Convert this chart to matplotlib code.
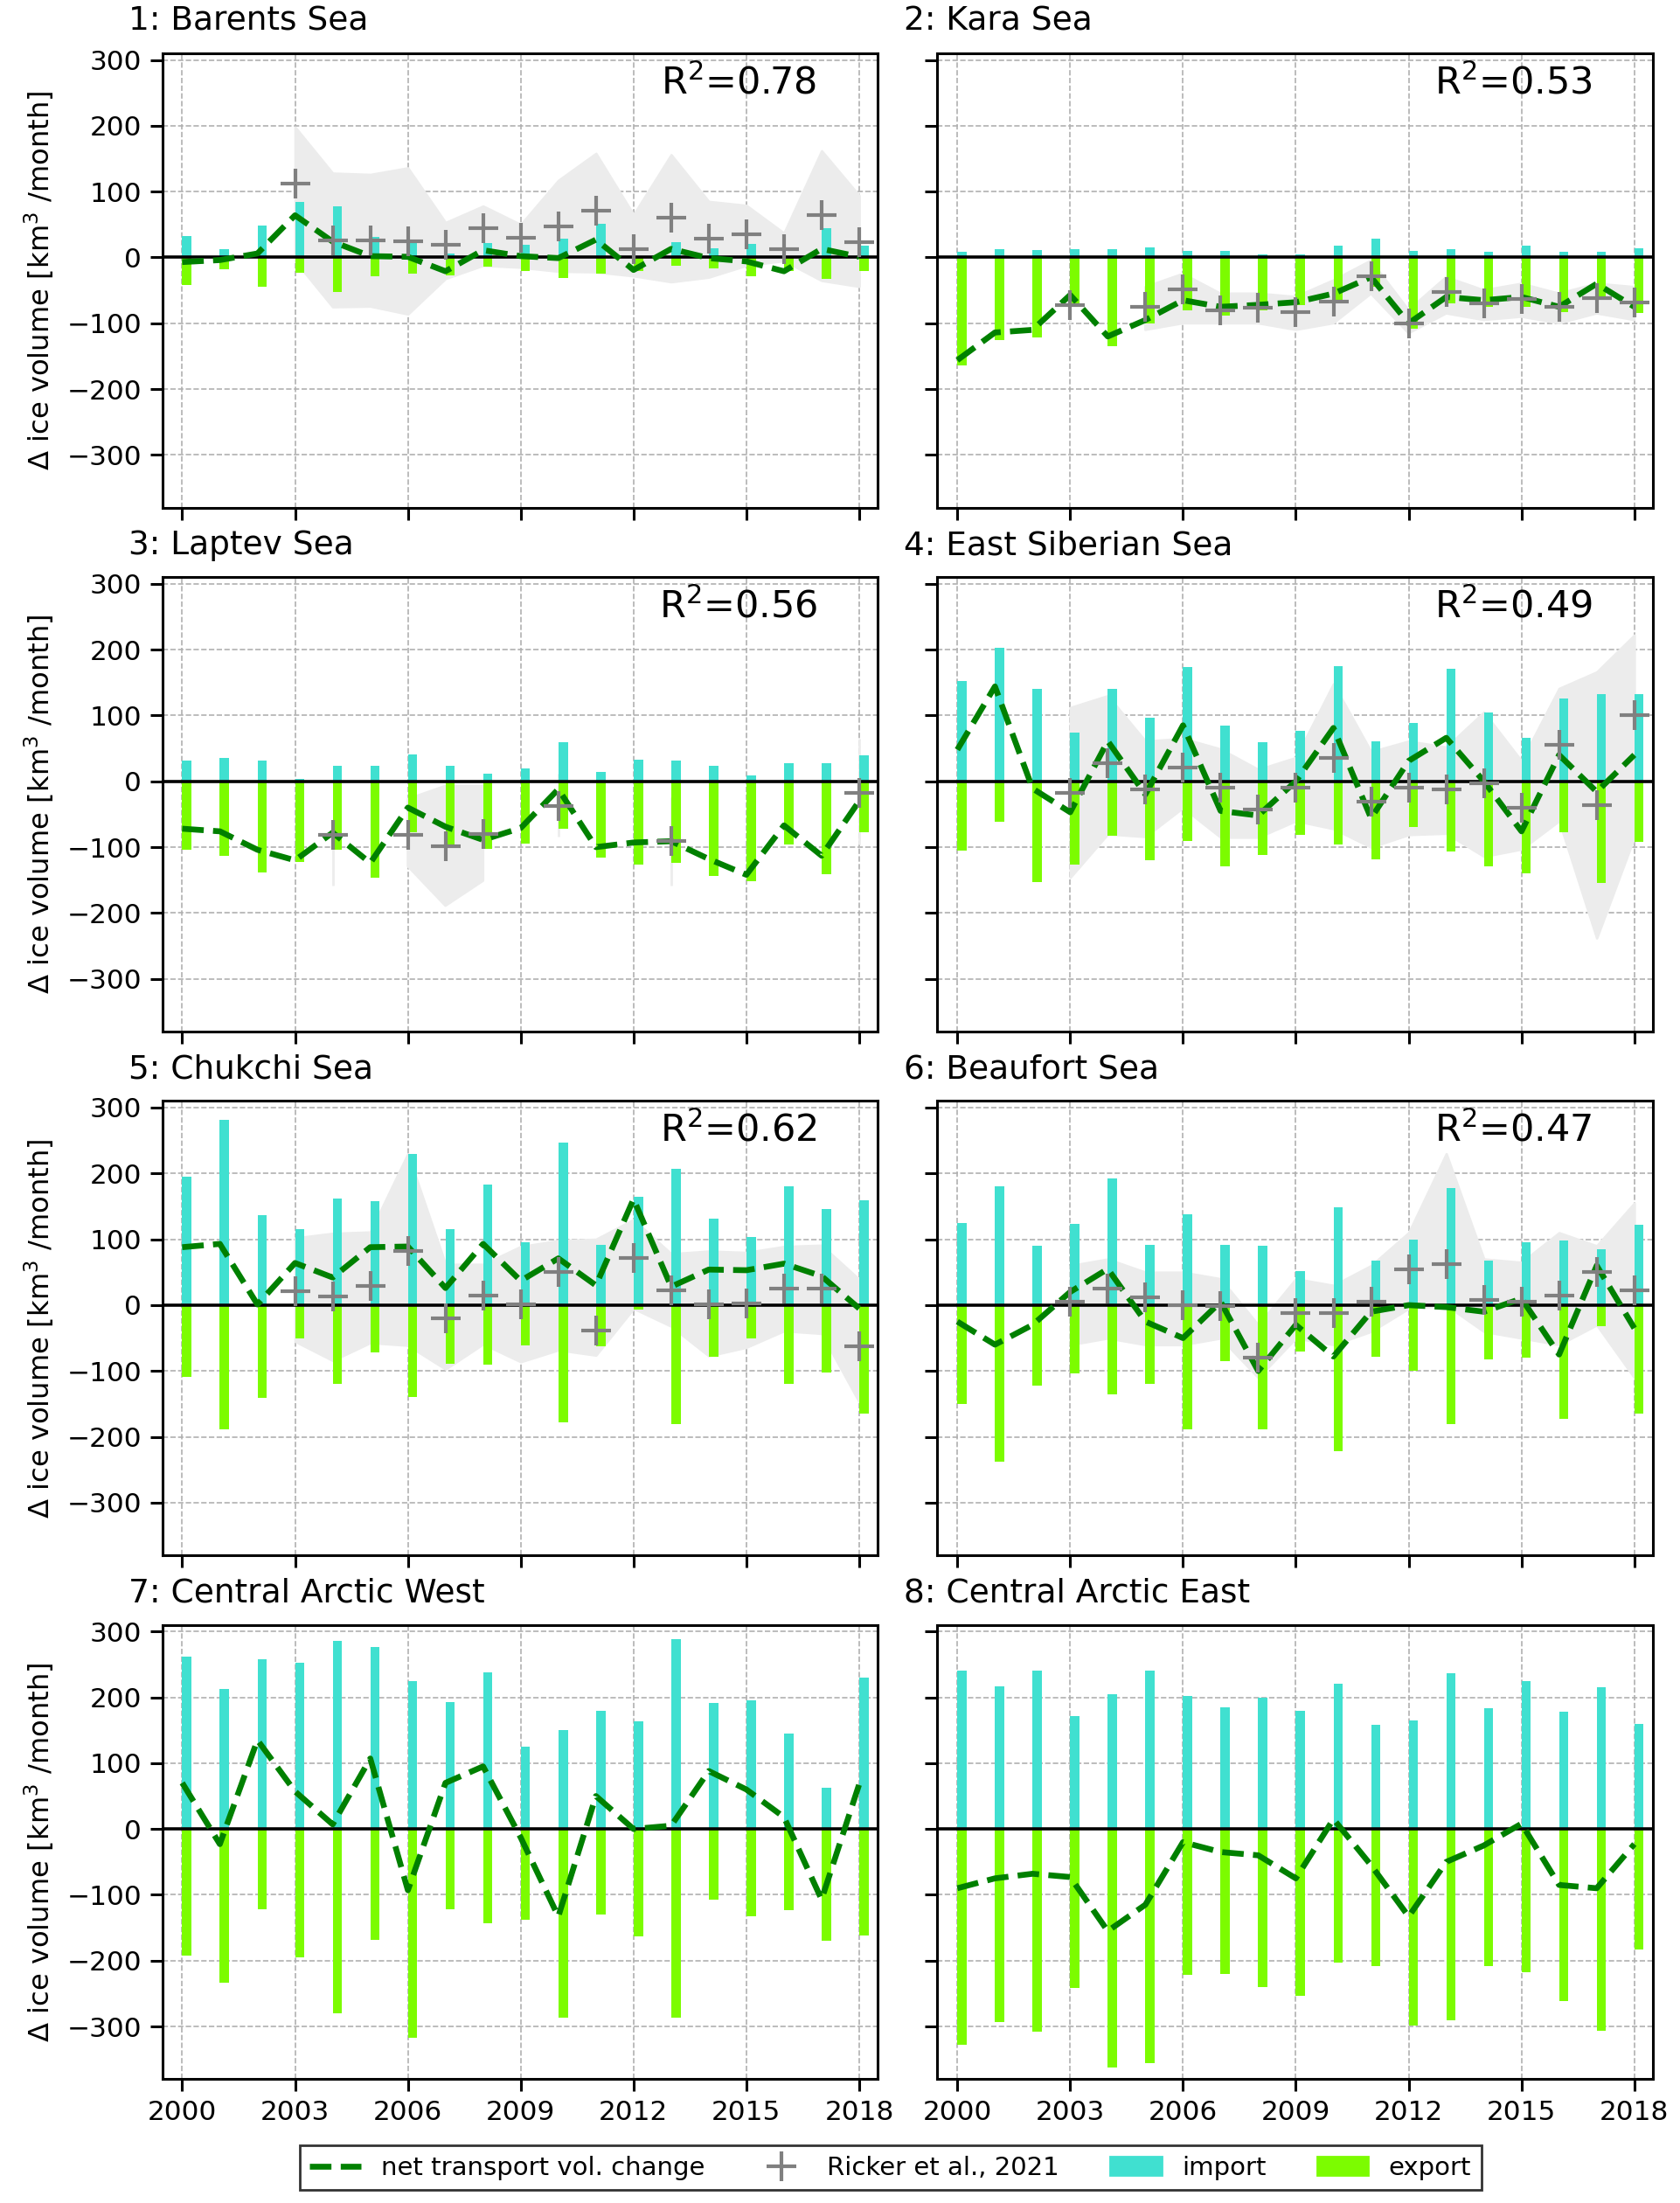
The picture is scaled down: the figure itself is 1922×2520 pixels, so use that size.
import numpy as np
import matplotlib
matplotlib.use("Agg")
import matplotlib.pyplot as plt
from matplotlib.lines import Line2D
from matplotlib.patches import Patch

nan = np.nan

years = [2000, 2001, 2002, 2003, 2004, 2005, 2006, 2007, 2008, 2009,
         2010, 2011, 2012, 2013, 2014, 2015, 2016, 2017, 2018]
year_ticks = [2000, 2003, 2006, 2009, 2012, 2015, 2018]

titles = ["1: Barents Sea", "2: Kara Sea", "3: Laptev Sea", "4: East Siberian Sea",
          "5: Chukchi Sea", "6: Beaufort Sea", "7: Central Arctic West", "8: Central Arctic East"]
r2_values = ["0.78", "0.53", "0.56", "0.49", "0.62", "0.47", None, None]

# 1: Barents Sea
barents_import = [32, 13, 48, 84, 77, 31, 22, 6, 22, 19, 29, 51, 1, 23, 14, 21, 2, 44, 18]
barents_export = [-42, -18, -44, -23, -53, -29, -25, -27, -14, -21, -31, -25, -21, -12, -17, -28, -21, -32, -20]
barents_net = [-7, -4, 6, 64, 24, 2, 1, -21, 11, 2, -1, 27, -19, 13, -1, -6, -21, 13, 1]
barents_ricker = [nan, nan, nan, 112, 26, 26, 25, 19, 44, 30, 47, 71, 13, 60, 28, 35, 13, 64, 23]
barents_lo = [nan, nan, nan, -5, -75, -74, -86, -32, -12, -15, -21, -22, -28, -37, -30, -12, -5, -35, -44]
barents_hi = [nan, nan, nan, 198, 128, 126, 136, 53, 78, 50, 117, 158, 65, 156, 85, 79, 37, 162, 94]

# 2: Kara Sea
kara_import = [8, 12, 11, 13, 12, 15, 10, 10, 5, 5, 18, 28, 10, 12, 8, 18, 8, 8, 14]
kara_export = [-164, -126, -122, -75, -135, -100, -80, -88, -80, -72, -70, -45, -108, -70, -75, -75, -83, -60, -85]
kara_net = [-156, -114, -110, -57, -120, -95, -65, -75, -72, -68, -55, -30, -100, -60, -65, -60, -75, -40, -75]
kara_ricker = [nan, nan, nan, -73, nan, -75, -48, -80, -77, -83, -67, -28, -100, -52, -70, -63, -75, -62, -68]
kara_lo = [nan, nan, nan, -100, nan, -110, -100, -100, -100, -110, -100, -55, -115, -85, -95, -90, -100, -85, -95]
kara_hi = [nan, nan, nan, -45, nan, -45, -25, -55, -55, -60, -35, -5, -80, -30, -50, -40, -55, -40, -45]

# 3: Laptev Sea
laptev_import = [31, 36, 32, 3, 23, 24, 41, 24, 11, 19, 59, 14, 33, 31, 23, 9, 28, 28, 39]
laptev_export = [-104, -113, -139, -123, -104, -147, -78, -98, -103, -95, -72, -116, -126, -124, -144, -152, -96, -141, -78]
laptev_net = [-72, -76, -104, -120, -78, -124, -40, -69, -89, -71, -12, -100, -93, -91, -118, -142, -67, -113, -30]
laptev_ricker = [nan, nan, nan, nan, -81, nan, -81, -99, -80, nan, -38, nan, nan, -91, nan, nan, nan, nan, -18]
laptev_lo = [nan, nan, nan, nan, -158, nan, -129, -189, -151, nan, -84, nan, nan, -158, nan, nan, nan, nan, -96]
laptev_hi = [nan, nan, nan, nan, -64, nan, -27, -7, -7, nan, 11, nan, nan, -24, nan, nan, nan, nan, 64]

# 4: East Siberian Sea
esib_import = [152, 203, 140, 74, 141, 97, 174, 84, 60, 76, 175, 61, 88, 171, 105, 66, 126, 132, 132]
esib_export = [-105, -62, -153, -126, -83, -120, -91, -129, -112, -82, -96, -118, -69, -107, -129, -140, -78, -155, -92]
esib_net = [48, 144, -11, -47, 61, -20, 85, -45, -52, 0, 81, -56, 31, 66, 0, -76, 40, -16, 40]
esib_ricker = [nan, nan, nan, -18, 28, -13, 21, -10, -43, -10, 36, -31, -10, -13, -3, -40, 56, -36, 100]
esib_lo = [nan, nan, nan, -146, -80, -84, -40, -85, -85, -60, -72, -100, -81, -79, -114, -103, -60, -238, -85]
esib_hi = [nan, nan, nan, 112, 130, 61, 65, 49, 18, 36, 148, 45, 61, 52, 105, 31, 141, 166, 222]

# 5: Chukchi Sea
chuk_import = [195, 282, 137, 116, 162, 158, 229, 115, 183, 96, 247, 91, 165, 207, 132, 103, 180, 146, 159]
chuk_export = [-109, -189, -141, -51, -120, -72, -140, -89, -91, -61, -178, -62, -7, -180, -78, -51, -120, -102, -165]
chuk_net = [88, 93, 1, 64, 42, 88, 89, 26, 93, 37, 71, 30, 161, 28, 54, 53, 63, 44, -5]
chuk_ricker = [nan, nan, nan, 21, 13, 29, 82, -20, 15, 1, 50, -39, 72, 22, 1, 2, 25, 25, -63]
chuk_lo = [nan, nan, nan, -55, -84, -57, -61, -97, -59, -86, -68, -76, -5, -32, -77, -64, -39, -43, -147]
chuk_hi = [nan, nan, nan, 102, 109, 111, 230, 62, 62, 89, 98, 100, 130, 78, 82, 80, 89, 91, 39]

# 6: Beaufort Sea
beau_import = [125, 180, 90, 123, 193, 92, 138, 92, 90, 52, 148, 68, 100, 178, 68, 95, 98, 85, 122]
beau_export = [-150, -238, -122, -103, -135, -120, -188, -85, -188, -70, -222, -78, -100, -180, -82, -80, -173, -32, -165]
beau_net = [-25, -60, -30, 20, 55, -25, -50, 5, -100, -30, -78, -10, 0, -3, -10, 10, -75, 60, -35]
beau_ricker = [nan, nan, nan, 5, 25, 12, 0, -2, -80, -12, -12, 5, 55, 62, 8, 5, 15, 50, 22]
beau_lo = [nan, nan, nan, -60, -50, -60, -60, -50, -110, -50, -60, -40, -5, 0, -40, -50, -60, -30, -110]
beau_hi = [nan, nan, nan, 60, 70, 50, 50, 40, -30, 40, 30, 60, 110, 230, 70, 65, 110, 90, 155]

# 7: Central Arctic West
caw_import = [262, 212, 258, 253, 285, 276, 224, 193, 238, 125, 150, 180, 163, 288, 192, 196, 145, 62, 230]
caw_export = [-192, -233, -122, -195, -280, -168, -317, -122, -143, -138, -287, -130, -163, -287, -107, -133, -123, -170, -162]
caw_net = [70, -23, 135, 57, 7, 107, -93, 70, 95, -13, -133, 50, 0, 5, 88, 60, 18, -107, 68]

# 8: Central Arctic East
cae_import = [240, 217, 240, 172, 205, 240, 202, 185, 200, 180, 220, 158, 165, 237, 183, 225, 178, 215, 160]
cae_export = [-328, -293, -308, -242, -362, -355, -222, -220, -240, -253, -203, -208, -298, -290, -208, -218, -262, -307, -183]
cae_net = [-90, -75, -68, -73, -155, -115, -20, -35, -40, -75, 15, -55, -133, -50, -25, 8, -85, -90, -23]

panels = [
    (barents_import, barents_export, barents_net, barents_ricker, barents_lo, barents_hi),
    (kara_import, kara_export, kara_net, kara_ricker, kara_lo, kara_hi),
    (laptev_import, laptev_export, laptev_net, laptev_ricker, laptev_lo, laptev_hi),
    (esib_import, esib_export, esib_net, esib_ricker, esib_lo, esib_hi),
    (chuk_import, chuk_export, chuk_net, chuk_ricker, chuk_lo, chuk_hi),
    (beau_import, beau_export, beau_net, beau_ricker, beau_lo, beau_hi),
    (caw_import, caw_export, caw_net, None, None, None),
    (cae_import, cae_export, cae_net, None, None, None),
]

plt.rcParams["font.family"] = "DejaVu Sans"

fig, axes = plt.subplots(4, 2, figsize=(9.61, 12.6), dpi=200, sharex=True, sharey=True)
fig.subplots_adjust(left=0.0966, right=0.984, top=0.9758, bottom=0.0562, wspace=0.083, hspace=0.153)

for i, ax in enumerate(axes.flat):
    imp, exp_, net, ricker, lo, hi = panels[i]
    ax.set_axisbelow(True)
    ax.grid(True, linestyle="--", linewidth=0.6, color="#b0b0b0")
    if lo is not None:
        ax.fill_between(years, lo, hi, color="#ececec", edgecolor="#ececec", linewidth=1.0, zorder=1)
    ax.bar(years, imp, width=0.25, align="edge", color="turquoise", zorder=2)
    ax.bar(years, exp_, width=0.25, align="edge", color="lawngreen", zorder=2)
    ax.axhline(0, color="black", linewidth=1.3, zorder=2.5)
    ax.plot(years, net, linestyle="--", color="green", linewidth=2.4, zorder=3)
    if ricker is not None:
        ax.plot(years, ricker, linestyle="none", marker="+", markersize=12,
                markeredgewidth=1.5, color="gray", zorder=4)
    if r2_values[i] is not None:
        ax.text(0.805, 0.935, r"R$^2$=" + r2_values[i], transform=ax.transAxes,
                fontsize=15.5, ha="center", va="center")
    ax.text(-0.047, 1.035, titles[i], transform=ax.transAxes, fontsize=13.5, ha="left", va="bottom")
    ax.set_xlim(1999.47, 2018.5)
    ax.set_ylim(-380, 310)
    ax.set_xticks(year_ticks)
    ax.set_yticks([-300, -200, -100, 0, 100, 200, 300])
    ax.tick_params(labelsize=11.2, length=5, width=1.1)
    for sp in ax.spines.values():
        sp.set_linewidth(1.1)
    if i % 2 == 0:
        ax.set_ylabel(r"$\Delta$ ice volume [km$^3$ /month]", fontsize=11.6)

handles = [
    Line2D([], [], linestyle="--", color="green", linewidth=2.4),
    Line2D([], [], linestyle="none", marker="+", markersize=12, markeredgewidth=1.5, color="gray"),
    Patch(color="turquoise"),
    Patch(color="lawngreen"),
]
labels = ["net transport vol. change", "Ricker et al., 2021", "import", "export"]
fig.legend(handles, labels, loc="lower center", bbox_to_anchor=(0.53, 0.0), ncol=4,
           fontsize=10.5, frameon=True, fancybox=False, edgecolor="black")

fig.savefig("out.png", dpi=200)
